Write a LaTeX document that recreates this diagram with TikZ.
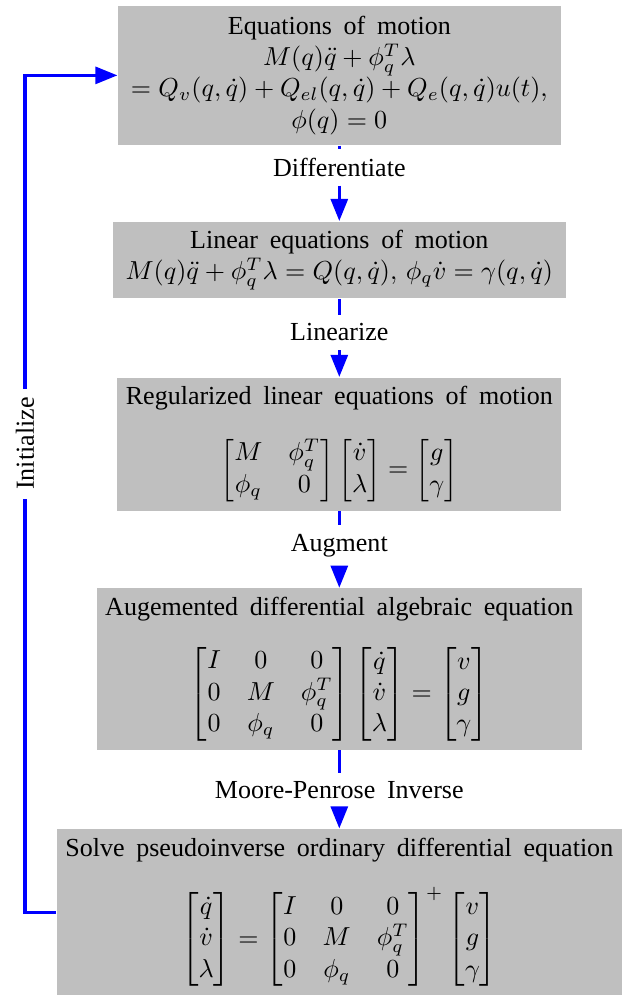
\documentclass[tikz,border=0pt]{standalone}
\usepackage{amsmath,amssymb}
\usepackage{fontspec}
\setmainfont{Liberation Serif}[WordSpace=1.8]
\usetikzlibrary{arrows.meta,positioning,calc}

\begin{document}
\begin{tikzpicture}[
    stage/.style={rectangle, fill=lightgray, align=center},
    lbl/.style={fill=white, text=black},
    link/.style={blue, line width=1.25pt},
    arr/.style={link, -{Triangle[length=8.5pt, width=6.5pt]}},
]

% equations of motion
\node[stage, inner xsep=5pt, inner ysep=4pt] (eom) at (0,0) {Equations of motion\\
    $M(q)\ddot{q}+\phi_q^T\lambda$\\
    $=Q_v(q,\dot{q})+Q_{el}(q,\dot{q})+Q_e(q,\dot{q})u(t),$\\
    $\phi(q)=0$};

% linear equations
\node[stage, inner xsep=5pt, below=29pt of eom] (lin) {Linear equations of motion\\
    $M(q)\ddot{q}+\phi_q^T\lambda=Q(q,\dot{q}),\,\phi_q\dot{v}=\gamma(q,\dot{q})$};

% regularized
\node[stage, below=30pt of lin] (reg) {Regularized linear equations of motion\\[10pt]
    $\begin{bmatrix} M & \phi_q^T\\ \phi_q & 0 \end{bmatrix}
     \begin{bmatrix} \dot{v}\\ \lambda \end{bmatrix}
     =\begin{bmatrix} g\\ \gamma \end{bmatrix}$};

% augmented DAE
\node[stage, below=29.5pt of reg] (dae) {Augemented differential algebraic equation\\[9pt]
    $\begin{bmatrix} I & 0 & 0\\ 0 & M & \phi_q^T\\ 0 & \phi_q & 0 \end{bmatrix}
     \begin{bmatrix} \dot{q}\\ \dot{v}\\ \lambda \end{bmatrix}
     =\begin{bmatrix} v\\ g\\ \gamma \end{bmatrix}$};

% pseudoinverse ODE
\node[stage, below=30pt of dae] (ode) {Solve pseudoinverse ordinary differential equation\\[9pt]
    $\begin{bmatrix} \dot{q}\\ \dot{v}\\ \lambda \end{bmatrix}
     =\begin{bmatrix} I & 0 & 0\\ 0 & M & \phi_q^T\\ 0 & \phi_q & 0 \end{bmatrix}^+
     \begin{bmatrix} v\\ g\\ \gamma \end{bmatrix}$};

% step labels
\node[lbl, below=1.2pt of eom] (ldiff) {Differentiate};
\node[lbl, below=6pt of lin] (llin) {Linearize};
\node[lbl, below=5.3pt of reg] (laug) {Augment};
\node[lbl, below=8.5pt of dae] (lmp) {Moore-Penrose Inverse};

\draw[link] (eom) -- (ldiff);
\draw[arr] (ldiff) -- (lin);
\draw[link] (lin) -- (llin);
\draw[arr] (llin) -- (reg);
\draw[link] (reg) -- (laug);
\draw[arr] (laug) -- (dae);
\draw[link] (dae) -- (lmp);
\draw[arr] (lmp) -- (ode);

% loop back
\coordinate (back) at ($(ode.west)+(-12pt,0)$);
\draw[arr] (ode.west) -- (back) |- node[lbl, pos=0.28, rotate=90] (linit) {Initialize} (eom.west);

\coordinate (bbnw) at ($(back |- eom.north)+(-9.6pt,2pt)$);
\coordinate (bbse) at ($(ode.south east)+(1.5pt,0)$);
\useasboundingbox (bbnw) rectangle (bbse);

\end{tikzpicture}
\end{document}
